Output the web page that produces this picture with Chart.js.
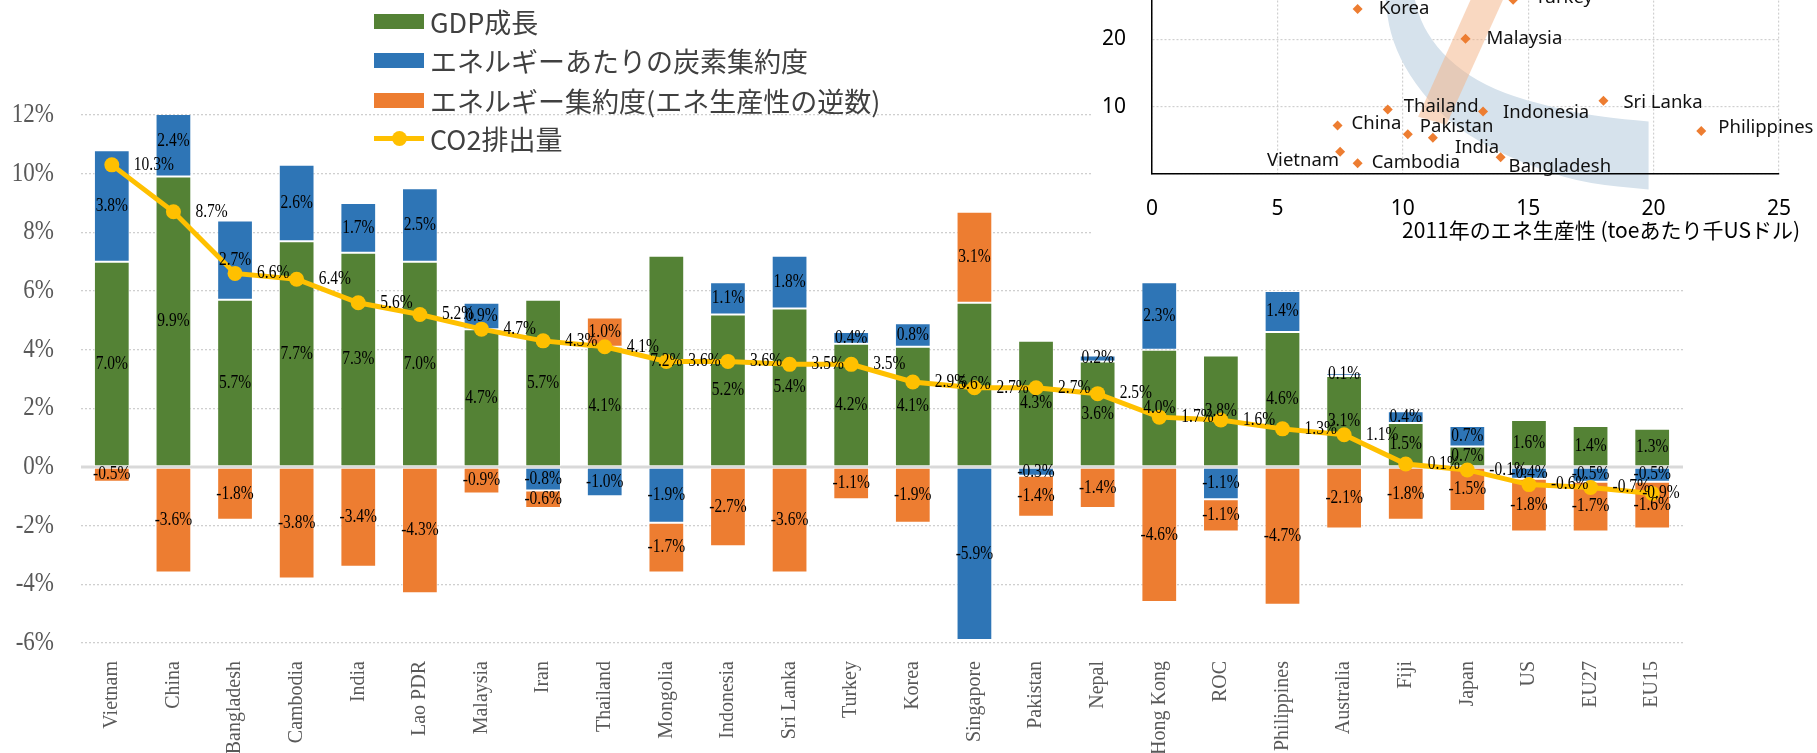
<!DOCTYPE html>
<html>
<head>
<meta charset="utf-8">
<script src="https://cdn.jsdelivr.net/npm/chart.js@4.4.1/dist/chart.umd.min.js"></script>
<style>
html, body { margin: 0; padding: 0; background: #fff; overflow: hidden; }
#wrap { position: relative; width: 1817px; height: 753px; overflow: hidden; }
#main { position: absolute; left: 0; top: 0; }
#insetBox { position: absolute; left: 1092px; top: -110px; width: 725px; height: 365px; background: #fff; }
#legend { position: absolute; left: 374px; top: 0; font-family: "Noto Sans CJK JP"; font-size: 27px; color: #404040; }
.item { position: absolute; left: 0; height: 30px; display: flex; align-items: center; white-space: nowrap; }
.sw { width: 50px; height: 15px; margin-right: 6px; position: relative; }
</style>
</head>
<body>
<div id="wrap">
  <canvas id="main" width="1817" height="753"></canvas>
  <div id="insetBox"><canvas id="inset" width="725" height="365"></canvas></div>
  <div id="legend"></div>
</div>
<script>
// main chart data
const countries = ['Vietnam', 'China', 'Bangladesh', 'Cambodia', 'India', 'Lao PDR', 'Malaysia', 'Iran', 'Thailand',
  'Mongolia', 'Indonesia', 'Sri Lanka', 'Turkey', 'Korea', 'Singapore', 'Pakistan', 'Nepal', 'Hong Kong', 'ROC',
  'Philippines', 'Australia', 'Fiji', 'Japan', 'US', 'EU27', 'EU15'];
const gdpGrowth = [7.0, 9.9, 5.7, 7.7, 7.3, 7.0, 4.7, 5.7, 4.1, 7.2, 5.2, 5.4, 4.2, 4.1, 5.6, 4.3, 3.6, 4.0, 3.8, 4.6, 3.1, 1.5, 0.7, 1.6, 1.4, 1.3];
const carbonPerEnergy = [3.8, 2.4, 2.7, 2.6, 1.7, 2.5, 0.9, -0.8, -1.0, -1.9, 1.1, 1.8, 0.4, 0.8, -5.9, -0.3, 0.2, 2.3, -1.1, 1.4, 0.1, 0.4, 0.7, -0.4, -0.5, -0.5];
const energyIntensity = [-0.5, -3.6, -1.8, -3.8, -3.4, -4.3, -0.9, -0.6, 1.0, -1.7, -2.7, -3.6, -1.1, -1.9, 3.1, -1.4, -1.4, -4.6, -1.1, -4.7, -2.1, -1.8, -1.5, -1.8, -1.7, -1.6];
const co2Emissions = [10.3, 8.7, 6.6, 6.4, 5.6, 5.2, 4.7, 4.3, 4.1, 3.6, 3.6, 3.5, 3.5, 2.9, 2.7, 2.7, 2.5, 1.7, 1.6, 1.3, 1.1, 0.1, -0.1, -0.6, -0.7, -0.9];
const yTicks = [-6, -4, -2, 0, 2, 4, 6, 8, 10, 12];

// inset scatter data
const insetNames = ['Korea', 'Turkey', 'Malaysia', 'Thailand', 'Indonesia', 'Sri Lanka', 'China', 'Philippines', 'Pakistan', 'India', 'Vietnam', 'Cambodia', 'Bangladesh'];
const energyProductivity2011 = [8.2, 14.4, 12.5, 9.4, 13.2, 18.0, 7.4, 21.9, 10.2, 11.2, 7.5, 8.2, 13.9];
const insetY = [24.5, 25.9, 20.1, 9.6, 9.3, 10.9, 7.2, 6.4, 5.9, 5.4, 3.3, 1.6, 2.5];

// shaded trend bands in the inset (data units)
const blueBandOuter = [[8.95, 40], [9.30, 25.85], [9.49, 20.9], [10.05, 15.9], [10.99, 11.0], [12.11, 7.0], [13.61, 3.6], [15.48, 0.6], [17.36, -1.4], [19.8, -2.3]];
const blueBandInner = [[9.67, 40], [10.46, 25.85], [10.8, 21.9], [11.55, 17.9], [12.67, 14.5], [13.99, 12.0], [15.86, 10.0], [17.73, 8.5], [19.8, 7.8]];
const orangeBand = [[10.61, 8.5], [13.8, 35], [15.1, 35], [11.74, 7.3]];

const GREEN = '#548235', BLUE = '#2E75B6', ORANGE = '#ED7D31', YELLOW = '#FFC000';
const SERIF = '"Liberation Serif", "Times New Roman", serif';
const INSET_PX_PER_UNIT = 6.73;

const zeroLine = {
  id: 'zeroLine',
  beforeDatasetsDraw(chart) {
    const { ctx, chartArea } = chart;
    const y = chart.scales.y.getPixelForValue(0);
    ctx.save();
    ctx.strokeStyle = '#D9D9D9';
    ctx.lineWidth = 3;
    ctx.beginPath();
    ctx.moveTo(chartArea.left, y);
    ctx.lineTo(chartArea.right, y);
    ctx.stroke();
    ctx.restore();
  }
};

function tallText(ctx, txt, x, y) {
  ctx.save();
  ctx.translate(x, y);
  ctx.scale(1, 1.18);
  ctx.fillText(txt, 0, 0);
  ctx.restore();
}

const valueLabels = {
  id: 'valueLabels',
  afterDatasetsDraw(chart) {
    const ctx = chart.ctx;
    ctx.save();
    ctx.font = '15.5px ' + SERIF;
    ctx.fillStyle = '#000';
    ctx.textBaseline = 'middle';
    chart.data.datasets.forEach((ds, i) => {
      const pts = chart.getDatasetMeta(i).data;
      pts.forEach((el, j) => {
        const txt = ds.data[j].toFixed(1) + '%';
        if (ds.type === 'line') {
          ctx.textAlign = 'left';
          // last label sits on its marker, as in the original
          const dx = j === pts.length - 1 ? -10 : 22;
          tallText(ctx, txt, el.x + dx, el.y);
        } else {
          ctx.textAlign = 'center';
          tallText(ctx, txt, el.x, (el.y + el.base) / 2);
        }
      });
    });
    // y axis tick labels (serif, slightly tall like the original)
    const ys = chart.scales.y;
    ctx.font = '23px ' + SERIF;
    ctx.fillStyle = '#595959';
    ctx.textAlign = 'right';
    ys.ticks.forEach(t => tallText(ctx, t.value + '%', ys.right - 27, ys.getPixelForValue(t.value)));
    ctx.restore();
  }
};

const mainChart = new Chart(document.getElementById('main'), {
  data: {
    labels: countries,
    datasets: [
      { type: 'bar', label: 'GDP成長', data: gdpGrowth, backgroundColor: GREEN, order: 1 },
      { type: 'bar', label: 'エネルギーあたりの炭素集約度', data: carbonPerEnergy, backgroundColor: BLUE, order: 1 },
      { type: 'bar', label: 'エネルギー集約度(エネ生産性の逆数)', data: energyIntensity, backgroundColor: ORANGE, order: 1 },
      { type: 'line', label: 'CO2排出量', data: co2Emissions, borderColor: YELLOW, backgroundColor: YELLOW,
        borderWidth: 5, pointRadius: 7.5, pointHoverRadius: 7.5, pointBorderWidth: 0, tension: 0, order: 0, stack: 'co2' }
    ]
  },
  options: {
    responsive: false,
    animation: false,
    devicePixelRatio: 1,
    layout: { padding: { top: 115, right: 134, left: 0, bottom: 0 } },
    datasets: { bar: { barPercentage: 0.58, categoryPercentage: 1, borderColor: 'rgba(255,255,255,0.55)', borderWidth: 1, borderSkipped: false } },
    plugins: { legend: { display: false }, tooltip: { enabled: false } },
    scales: {
      x: {
        stacked: true,
        grid: { display: false },
        border: { display: false },
        ticks: { autoSkip: false, minRotation: 90, maxRotation: 90, padding: 10, color: '#595959', font: { family: SERIF, size: 20 } },
        afterFit(s) { s.height = 110; }
      },
      y: {
        stacked: true,
        min: -6, max: 12,
        afterBuildTicks(s) { s.ticks = yTicks.map(v => ({ value: v })); },
        grid: { color: '#CFCFCF', lineWidth: 1.3, drawTicks: false },
        border: { display: false, dash: [2, 2] },
        ticks: { display: false },
        afterFit(s) { s.width = 81; }
      }
    }
  },
  plugins: [zeroLine, valueLabels]
});

// legend from the datasets
const legend = document.getElementById('legend');
const centers = [21, 60, 100, 138];
mainChart.data.datasets.forEach((ds, i) => {
  const item = document.createElement('div');
  item.className = 'item';
  item.style.top = (centers[i] - 15) + 'px';
  const sw = document.createElement('div');
  sw.className = 'sw';
  if (ds.type === 'line') {
    sw.innerHTML = '<div style="position:absolute;left:0;top:5px;width:50px;height:5px;background:' + ds.borderColor + '"></div>' +
      '<div style="position:absolute;left:17.5px;top:0;width:15px;height:15px;border-radius:50%;background:' + ds.borderColor + '"></div>';
  } else {
    sw.style.background = ds.backgroundColor;
  }
  const tx = document.createElement('span');
  tx.textContent = ds.label;
  item.appendChild(sw);
  item.appendChild(tx);
  legend.appendChild(item);
});

// inset scatter
function toPx(xs, ys, pts) {
  return pts.map(p => [xs.getPixelForValue(p[0]), ys.getPixelForValue(p[1])]);
}
function smooth(ctx, pts, first) {
  if (first) ctx.moveTo(pts[0][0], pts[0][1]); else ctx.lineTo(pts[0][0], pts[0][1]);
  for (let i = 1; i < pts.length - 1; i++) {
    const mx = (pts[i][0] + pts[i + 1][0]) / 2, my = (pts[i][1] + pts[i + 1][1]) / 2;
    ctx.quadraticCurveTo(pts[i][0], pts[i][1], mx, my);
  }
  const l = pts[pts.length - 1];
  ctx.lineTo(l[0], l[1]);
}
const bands = {
  id: 'bands',
  beforeDatasetsDraw(chart) {
    const { ctx, scales: { x, y } } = chart;
    ctx.save();
    ctx.fillStyle = '#D6E2EC';
    ctx.beginPath();
    smooth(ctx, toPx(x, y, blueBandOuter), true);
    smooth(ctx, toPx(x, y, blueBandInner.slice().reverse()), false);
    ctx.closePath();
    ctx.fill();
    ctx.fillStyle = 'rgba(244,177,131,0.5)';
    ctx.beginPath();
    toPx(x, y, orangeBand).forEach((p, k) => k ? ctx.lineTo(p[0], p[1]) : ctx.moveTo(p[0], p[1]));
    ctx.closePath();
    ctx.fill();
    ctx.restore();
  }
};
const labelPos = {
  Korea: [21, 0], Turkey: [22, -2], Malaysia: [21, 0], Thailand: [16, -3], Indonesia: [20, 1], 'Sri Lanka': [20, 2],
  China: [14, -2], Philippines: [17, -3], Pakistan: [12, -8], India: [22, 10], Vietnam: [-1, 9, 'right'], Cambodia: [14, 0], Bangladesh: [8, 10]
};
const insetLabels = {
  id: 'insetLabels',
  afterDatasetsDraw(chart) {
    const ctx = chart.ctx;
    ctx.save();
    ctx.font = '18.5px "Noto Sans"';
    ctx.fillStyle = '#111';
    ctx.textBaseline = 'middle';
    chart.getDatasetMeta(0).data.forEach((el, j) => {
      const p = labelPos[insetNames[j]] || [20, 0];
      ctx.textAlign = p[2] || 'left';
      ctx.fillText(insetNames[j], el.x + p[0], el.y + p[1]);
    });
    ctx.font = '21px "Noto Sans CJK JP"';
    ctx.textAlign = 'right';
    ctx.fillStyle = '#000';
    ctx.fillText('2011年のエネ生産性 (toeあたり千USドル)', 708, 340);
    ctx.restore();
  }
};
const inset = new Chart(document.getElementById('inset'), {
  type: 'scatter',
  data: {
    datasets: [{
      data: energyProductivity2011.map((v, i) => ({ x: v, y: insetY[i] })),
      pointStyle: 'rectRot', pointRadius: 5, pointHoverRadius: 5, backgroundColor: ORANGE, borderWidth: 0
    }]
  },
  options: {
    responsive: false,
    animation: false,
    devicePixelRatio: 1,
    layout: { padding: { top: 0, right: 38, left: 0, bottom: 0 } },
    plugins: { legend: { display: false }, tooltip: { enabled: false } },
    scales: {
      x: {
        min: 0, max: 25,
        ticks: { stepSize: 5, padding: 22, color: '#000', font: { family: 'Noto Sans', size: 21 } },
        grid: { color: '#D0D0D0', lineWidth: 1.2, drawTicks: false },
        border: { display: true, color: '#000', width: 1.5, dash: [2, 2], z: 1 },
        afterFit(s) { s.height = 81; }
      },
      y: {
        min: 0, max: 40,
        ticks: { stepSize: 10, includeBounds: false, padding: 26, color: '#000', font: { family: 'Noto Sans', size: 21 }, callback: v => v === 0 ? '' : v },
        grid: { color: '#D0D0D0', lineWidth: 1.2, drawTicks: false },
        border: { display: true, color: '#000', width: 1.5, dash: [2, 2], z: 1 },
        afterFit(s) { s.width = 60; }
      }
    }
  },
  plugins: [bands, insetLabels]
});
// keep the inset's vertical scale at the original's pixels per unit
const area = inset.chartArea;
inset.options.scales.y.max = (area.bottom - area.top) / INSET_PX_PER_UNIT;
inset.update();
</script>
</body>
</html>
